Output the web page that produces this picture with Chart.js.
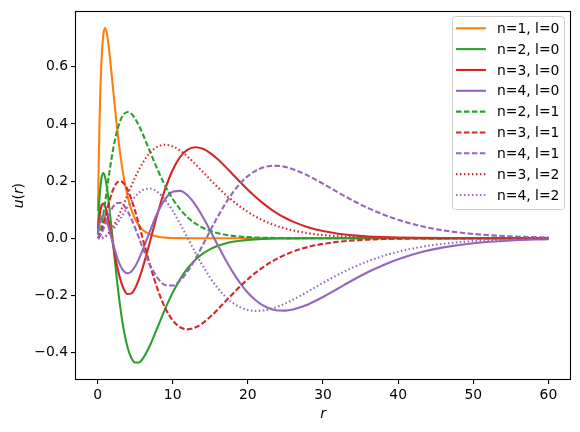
<!DOCTYPE html>
<html>
<head>
<meta charset="utf-8">
<script src="https://cdn.jsdelivr.net/npm/chart.js@4"></script>
<style>
  body { margin: 0; background: #fff; }
</style>
</head>
<body>
<canvas id="radialChart" width="580" height="432"></canvas>
<script>
// radius samples (Bohr radii)
const r = [0.05, 0.25, 0.5, 0.75, 1, 1.25, 1.5, 2, 2.5, 3, 3.5, 4, 4.5, 5, 5.5, 6,
    7, 8, 9, 10, 11, 12, 13, 14, 15, 16, 17, 18, 19, 20, 21, 22, 23, 24, 25, 26,
    28, 30, 32, 34, 36, 38, 40, 43, 46, 50, 55, 60];

// u(r), one array per curve
const u10 = [0.0951, 0.3894, 0.6065, 0.7085, 0.7358, 0.7163, 0.6694, 0.5413, 0.4104, 0.2987, 0.2114, 0.1465, 0.1000, 0.0674, 0.0450, 0.0297,
    0.0128, 0.0054, 0.0022, 0.0009, 0.0004, 0.0001, 0, 0, 0, 0, 0, 0, 0, 0, 0, 0, 0, 0, 0, 0,
    0, 0, 0, 0, 0, 0, 0, 0, 0, 0, 0, 0];
const u20 = [0.0336, 0.1365, 0.2065, 0.2278, 0.2144, 0.1774, 0.1253, 0, -0.1266, -0.2367, -0.3226, -0.3828, -0.4192, -0.4353, -0.4351, -0.4225,
    -0.3737, -0.3109, -0.2475, -0.1906, -0.1431, -0.1052, -0.0760, -0.0542, -0.0381, -0.0266, -0.0183, -0.0125, -0.0086, -0.0058, -0.0039, -0.0026, -0.0017, -0.0011, -0.0008, -0.0005,
    -0.0002, 0, 0, 0, 0, 0, 0, 0, 0, 0, 0, 0];
const u30 = [0.0183, 0.0742, 0.1116, 0.1218, 0.1124, 0.0896, 0.0584, -0.0146, -0.0852, -0.1416, -0.1787, -0.1954, -0.1932, -0.1750, -0.1442, -0.1042,
    -0.0097, 0.0872, 0.1725, 0.2390, 0.2846, 0.3103, 0.3185, 0.3133, 0.2983, 0.2764, 0.2507, 0.2233, 0.1959, 0.1695, 0.1450, 0.1229, 0.1030, 0.0856, 0.0707, 0.0581,
    0.0385, 0.0250, 0.0159, 0.0100, 0.0062, 0.0038, 0.0023, 0.0011, 0.0005, 0.0002, 0, 0];
const u40 = [0.0119, 0.0482, 0.0723, 0.0786, 0.0720, 0.0566, 0.0357, -0.0126, -0.0586, -0.0941, -0.1157, -0.1226, -0.1163, -0.0988, -0.0731, -0.0418,
    0.0269, 0.0902, 0.1371, 0.1625, 0.1657, 0.1494, 0.1175, 0.0749, 0.0262, -0.0244, -0.0735, -0.1187, -0.1582, -0.1909, -0.2165, -0.2351, -0.2470, -0.2529, -0.2534, -0.2495,
    -0.2320, -0.2058, -0.1760, -0.1462, -0.1184, -0.0945, -0.0737, -0.0493, -0.0321, -0.0175, -0.0078, -0.0033];
const u21 = [0.0005, 0.0113, 0.0397, 0.0789, 0.1238, 0.1707, 0.2170, 0.3004, 0.3655, 0.4099, 0.4346, 0.4420, 0.4357, 0.4189, 0.3946, 0.3658,
    0.3020, 0.2393, 0.1837, 0.1375, 0.1009, 0.0729, 0.0518, 0.0365, 0.0254, 0.0175, 0.0120, 0.0081, 0.0055, 0.0037, 0.0025, 0.0017, 0.0011, 0.0007, 0.0005, 0.0003,
    0.0001, 0, 0, 0, 0, 0, 0, 0, 0, 0, 0, 0];
const u31 = [0.0003, 0.0067, 0.0235, 0.0464, 0.0722, 0.0986, 0.1238, 0.1656, 0.1917, 0.2003, 0.1923, 0.1701, 0.1366, 0.0952, 0.0488, 0,
    -0.0958, -0.1793, -0.2440, -0.2876, -0.3118, -0.3191, -0.3129, -0.2971, -0.2751, -0.2492, -0.2217, -0.1943, -0.1681, -0.1437, -0.1216, -0.1021, -0.0849, -0.0700, -0.0575, -0.0469,
    -0.0307, -0.0198, -0.0125, -0.0078, -0.0048, -0.0029, -0.0018, -0.0008, -0.0004, -0.0001, 0, 0];
const u41 = [0.0002, 0.0044, 0.0156, 0.0308, 0.0479, 0.0652, 0.0815, 0.1077, 0.1223, 0.1244, 0.1146, 0.0950, 0.0680, 0.0361, 0.0019, -0.0324,
    -0.0945, -0.1397, -0.1636, -0.1656, -0.1482, -0.1157, -0.0727, -0.0239, 0.0267, 0.0757, 0.1205, 0.1597, 0.1922, 0.2175, 0.2358, 0.2474, 0.2530, 0.2535, 0.2494, 0.2418,
    0.2192, 0.1908, 0.1605, 0.1316, 0.1055, 0.0833, 0.0645, 0.0427, 0.0275, 0.0149, 0.0065, 0.0028];
const u32 = [0, 0.0001, 0.0010, 0.0030, 0.0065, 0.0116, 0.0185, 0.0370, 0.0612, 0.0896, 0.1204, 0.1521, 0.1833, 0.2129, 0.2399, 0.2635,
    0.3000, 0.3208, 0.3273, 0.3216, 0.3067, 0.2854, 0.2599, 0.2326, 0.2050, 0.1783, 0.1533, 0.1304, 0.1099, 0.0918, 0.0761, 0.0628, 0.0513, 0.0418, 0.0338, 0.0273,
    0.0175, 0.0111, 0.0069, 0.0043, 0.0026, 0.0016, 0.0009, 0.0004, 0.0002, 0.0001, 0, 0];
const u42 = [0, 0.0001, 0.0007, 0.0023, 0.0050, 0.0089, 0.0142, 0.0283, 0.0463, 0.0668, 0.0885, 0.1097, 0.1292, 0.1460, 0.1592, 0.1684,
    0.1736, 0.1613, 0.1342, 0.0956, 0.0495, 0, -0.0496, -0.0965, -0.1387, -0.1748, -0.2040, -0.2264, -0.2419, -0.2511, -0.2547, -0.2534, -0.2481, -0.2395, -0.2283, -0.2154,
    -0.1865, -0.1565, -0.1278, -0.1022, -0.0802, -0.0622, -0.0474, -0.0307, -0.0195, -0.0103, -0.0045, -0.0018];

const nomes = ['n=1, l=0', 'n=2, l=0', 'n=3, l=0', 'n=4, l=0', 'n=2, l=1', 'n=3, l=1', 'n=4, l=1', 'n=3, l=2', 'n=4, l=2'];
const series = [u10, u20, u30, u40, u21, u31, u41, u32, u42];

const xTicks = [0, 10, 20, 30, 40, 50, 60];
const yTicks = [-0.4, -0.2, 0, 0.2, 0.4, 0.6];

// matplotlib tab colours and line styles
const cores = ['#ff7f0e', '#2ca02c', '#d62728', '#9467bd', '#2ca02c', '#d62728', '#9467bd', '#d62728', '#9467bd'];
const tracos = {
    solid: [],
    dashed: [5.55, 2.4],
    dotted: [1.5, 2.475]
};
const estilos = ['solid', 'solid', 'solid', 'solid', 'dashed', 'dashed', 'dashed', 'dotted', 'dotted'];

const FONTE = '13.9px "DejaVu Sans"';

const datasets = series.map((vals, i) => ({
    label: nomes[i],
    data: r.map((x, j) => ({ x: x, y: vals[j] })),
    borderColor: cores[i],
    borderWidth: 2.1,
    borderDash: tracos[estilos[i]],
    pointRadius: 0,
    fill: false,
    cubicInterpolationMode: 'monotone',
    order: series.length - i // last series on top, like matplotlib
}));

// frame, legend box and axis labels
const molduraPlugin = {
    id: 'moldura',
    afterDatasetsDraw(chart) {
        const { ctx, chartArea: a } = chart;
        ctx.save();
        ctx.strokeStyle = '#000';
        ctx.lineWidth = 1.1;
        ctx.strokeRect(Math.round(a.left) + 0.5, Math.round(a.top) + 0.5,
            Math.round(a.right - a.left) - 1, Math.round(a.bottom - a.top) - 1);
        ctx.restore();
    },
    afterDraw(chart) {
        const { ctx, chartArea: a } = chart;
        ctx.save();

        // legend
        const bx = 452, by = 16, bw = 112, bh = 193;
        ctx.beginPath();
        ctx.roundRect(bx + 0.5, by + 0.5, bw, bh, 3);
        ctx.fillStyle = 'rgba(255,255,255,0.8)';
        ctx.fill();
        ctx.strokeStyle = '#cccccc';
        ctx.lineWidth = 1;
        ctx.stroke();

        ctx.font = FONTE;
        ctx.textBaseline = 'middle';
        ctx.textAlign = 'left';
        nomes.forEach((nome, i) => {
            const y = 28.3 + i * 20.83;
            ctx.beginPath();
            ctx.setLineDash(tracos[estilos[i]]);
            ctx.strokeStyle = cores[i];
            ctx.lineWidth = 2.1;
            ctx.moveTo(456, y);
            ctx.lineTo(486, y);
            ctx.stroke();
            ctx.setLineDash([]);
            ctx.fillStyle = '#000';
            ctx.fillText(nome, 497, y + 1);
        });

        // x label: italic r
        ctx.fillStyle = '#000';
        ctx.textAlign = 'center';
        ctx.font = 'italic ' + FONTE;
        ctx.fillText('r', (a.left + a.right) / 2, 414);

        // y label: u(r), rotated
        ctx.translate(19, (a.top + a.bottom) / 2);
        ctx.rotate(-Math.PI / 2);
        const partes = [['u', true], ['(', false], ['r', true], [')', false]];
        let total = 0;
        partes.forEach(p => {
            ctx.font = (p[1] ? 'italic ' : '') + FONTE;
            total += ctx.measureText(p[0]).width;
        });
        let px = -total / 2;
        ctx.textAlign = 'left';
        partes.forEach(p => {
            ctx.font = (p[1] ? 'italic ' : '') + FONTE;
            ctx.fillText(p[0], px, 0);
            px += ctx.measureText(p[0]).width;
        });
        ctx.restore();
    }
};

const ctx = document.getElementById('radialChart').getContext('2d');

const radialChart = new Chart(ctx, {
    type: 'line',
    data: { datasets: datasets },
    options: {
        responsive: false,
        animation: false,
        layout: { padding: { top: 10, right: 9, left: 0, bottom: 0 } },
        plugins: {
            legend: { display: false },
            tooltip: { enabled: false }
        },
        scales: {
            x: {
                type: 'linear',
                min: -3,
                max: 63,
                afterBuildTicks: scale => { scale.ticks = xTicks.map(v => ({ value: v })); },
                afterFit: scale => { scale.height = 52; },
                border: { display: false },
                grid: { drawOnChartArea: false, drawTicks: true, tickLength: 4, color: '#000', lineWidth: 1.1 },
                ticks: { color: '#000', font: { family: 'DejaVu Sans', size: 13.9 }, padding: 3, maxRotation: 0,
                    callback: v => String(v) }
            },
            y: {
                type: 'linear',
                min: -0.4965,
                max: 0.7945,
                afterBuildTicks: scale => { scale.ticks = yTicks.map(v => ({ value: v })); },
                afterFit: scale => { scale.width = 75; },
                border: { display: false },
                grid: { drawOnChartArea: false, drawTicks: true, tickLength: 4, color: '#000', lineWidth: 1.1 },
                ticks: { color: '#000', font: { family: 'DejaVu Sans', size: 13.9 }, padding: 3,
                    callback: v => v.toFixed(1).replace('-', '\u2212') }
            }
        }
    },
    plugins: [molduraPlugin]
});
</script>
</body>
</html>
